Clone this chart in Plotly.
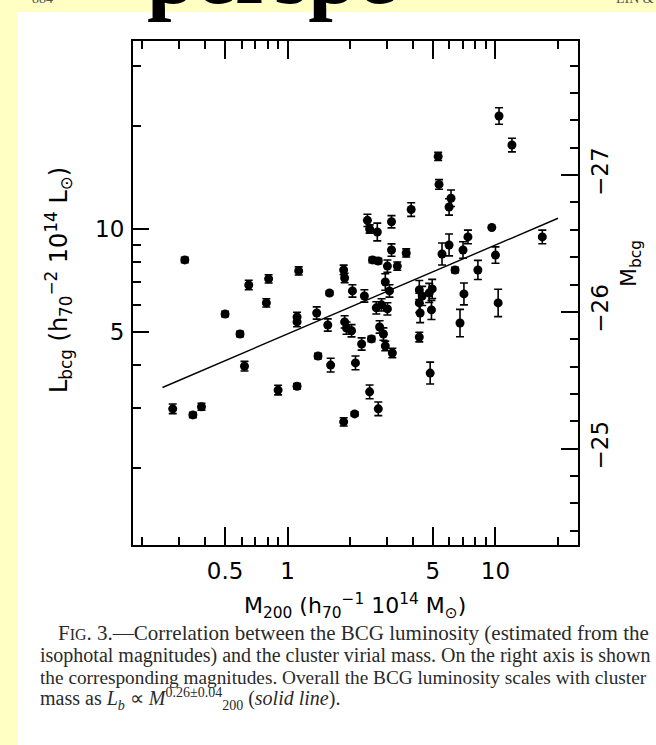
import numpy as np
import plotly.graph_objects as go

# ---------------- data ----------------
mass = [0.28, 0.35, 0.385, 0.32, 0.50, 0.59, 0.62, 0.65, 0.79, 0.81,
        0.90, 1.11, 1.13, 1.11, 1.11, 1.38, 1.40, 1.56, 1.59, 1.61,
        1.86, 1.88, 1.88, 1.92, 2.03, 2.05, 2.12, 2.27, 2.34, 2.48,
        2.73, 1.86, 2.10, 2.42, 2.48, 2.70, 3.16, 3.16, 2.56, 2.73,
        3.02, 2.95, 3.09, 2.67, 2.83, 3.02, 2.77, 2.89, 2.53, 2.95,
        3.19, 3.37, 3.72, 3.93, 4.30, 4.44, 4.34, 4.80, 4.96, 4.92,
        4.30, 4.85, 5.30, 5.35, 6.11, 5.98, 5.53, 5.98, 6.39, 6.98,
        7.37, 7.05, 6.75, 8.23, 9.60, 10.0, 10.3, 10.4, 12.0, 16.8,
        4.30]
lum = [2.98, 2.86, 3.02, 8.12, 5.64, 4.93, 3.97, 6.86, 6.08, 7.15,
       3.38, 3.47, 7.54, 5.53, 5.35, 5.68, 4.25, 5.24, 6.50, 4.00,
       7.59, 7.19, 5.35, 5.13, 5.04, 6.59, 4.06, 4.61, 6.37, 3.34,
       2.98, 2.73, 2.88, 10.6, 10.0, 9.80, 10.5, 8.68, 8.12, 8.06,
       7.79, 7.00, 6.59, 5.88, 6.00, 5.84, 5.17, 4.93, 4.77, 4.55,
       4.34, 7.79, 8.51, 11.4, 6.63, 6.37, 5.68, 6.50, 6.68, 5.80,
       4.83, 3.79, 16.3, 13.5, 12.3, 11.6, 8.45, 8.98, 7.59, 8.68,
       9.48, 6.46, 5.31, 7.59, 10.1, 8.39, 6.08, 21.4, 17.6, 9.48,
       6.08]
# error in magnitudes (half-length of the bars)
mag_err = [0.035, 0.02, 0.025, 0.02, 0.02, 0.02, 0.035, 0.035, 0.03, 0.03,
           0.035, 0.02, 0.03, 0.035, 0.035, 0.045, 0.02, 0.045, 0.015, 0.05,
           0.035, 0.035, 0.045, 0.045, 0.045, 0.045, 0.05, 0.045, 0.045, 0.05,
           0.05, 0.03, 0.015, 0.045, 0.03, 0.065, 0.045, 0.045, 0.02, 0.02,
           0.045, 0.06, 0.045, 0.045, 0.045, 0.045, 0.045, 0.045, 0.02, 0.035,
           0.035, 0.03, 0.03, 0.05, 0.07, 0.07, 0.07, 0.07, 0.07, 0.07,
           0.035, 0.08, 0.03, 0.035, 0.06, 0.06, 0.08, 0.08, 0.02, 0.06,
           0.05, 0.08, 0.10, 0.07, 0.0, 0.06, 0.10, 0.06, 0.05, 0.05,
           0.07]
fit_mass = [0.25, 20.0]
fit_lum = [3.44, 10.75]

x_ticks = [0.5, 1, 5, 10]
x_tick_labels = ["0.5", "1", "5", "10"]
x_minor = [0.2, 0.3, 0.4, 0.6, 0.7, 0.8, 0.9, 2, 3, 4, 6, 7, 8, 9, 20]
y_ticks = [5, 10]
y_tick_labels = ["5", "10"]
y_minor = [2, 3, 4, 6, 7, 8, 9, 20, 30]
mag_ticks = [-25, -26, -27]
mag_tick_labels = ["\u221225", "\u221226", "\u221227"]

caption = [
    "F<span style='font-size:16px'>IG</span>. 3.\u2014Correlation between the BCG luminosity (estimated from the",
    "isophotal magnitudes) and the cluster virial mass. On the right axis is shown",
    "the corresponding magnitudes. Overall the BCG luminosity scales with cluster",
    "mass as <i>L<sub>b</sub></i> \u221d <i>M</i><sup>0.26\u00b10.04</sup><sub>200</sub> (<i>solid line</i>).",
]

# ---------------- layout geometry ----------------
W, H = 656, 745
L_, R_, T_, B_ = 133, 578, 41, 545


def px(xp):
    return (xp - L_) / (R_ - L_)


def py(yp):
    return (B_ - yp) / (B_ - T_)


lum_a = np.array(lum)
err_a = np.array(mag_err)
err_plus = lum_a * (10 ** (0.4 * err_a) - 1)
err_minus = lum_a * (1 - 10 ** (-0.4 * err_a))

fig = go.Figure()
fig.add_trace(go.Scatter(
    x=mass, y=lum, mode="markers",
    marker=dict(symbol="circle", size=9, color="black"),
    error_y=dict(type="data", array=err_plus, arrayminus=err_minus,
                 color="black", thickness=1.6, width=4, visible=True),
    showlegend=False, hoverinfo="skip"))
fig.add_trace(go.Scatter(
    x=fit_mass, y=fit_lum, mode="lines",
    line=dict(color="black", width=1.4), showlegend=False, hoverinfo="skip"))
# invisible trace to activate the magnitude axis
fig.add_trace(go.Scatter(
    x=[1, 1], y=[-25, -27], yaxis="y2", mode="markers",
    marker=dict(opacity=0), showlegend=False, hoverinfo="skip"))

tickfont = dict(family="DejaVu Sans, sans-serif", size=23, color="black")

fig.update_layout(
    width=W, height=H,
    margin=dict(l=L_, r=W - R_, t=T_, b=H - B_, pad=0),
    paper_bgcolor="#FFFFC4",
    plot_bgcolor="white",
    showlegend=False,
    xaxis=dict(
        type="log", range=[-0.744, 1.397],
        tickvals=x_ticks, ticktext=x_tick_labels,
        ticks="inside", ticklen=18, tickwidth=1.5, tickcolor="black",
        minor=dict(tickvals=x_minor, ticks="inside", ticklen=8,
                   tickwidth=1.5, tickcolor="black", showgrid=False),
        showline=True, linewidth=2, linecolor="black", mirror="ticks",
        showgrid=False, zeroline=False, tickfont=tickfont,
        ticklabelstandoff=4,
    ),
    yaxis=dict(
        type="log", range=[0.076, 1.5497],
        tickvals=y_ticks, ticktext=y_tick_labels,
        ticks="inside", ticklen=16, tickwidth=1.5, tickcolor="black",
        minor=dict(tickvals=y_minor, ticks="inside", ticklen=8,
                   tickwidth=1.5, tickcolor="black", showgrid=False),
        showline=True, linewidth=2, linecolor="black", mirror=True,
        showgrid=False, zeroline=False, tickfont=tickfont,
        ticklabelstandoff=2,
    ),
    yaxis2=dict(
        overlaying="y", side="right", range=[-24.296, -27.98],
        tickvals=mag_ticks, ticktext=mag_tick_labels, tickangle=-90,
        ticks="inside", ticklen=17, tickwidth=1.5, tickcolor="black",
        minor=dict(tick0=-25, dtick=0.2, ticks="inside", ticklen=8,
                   tickwidth=1.5, tickcolor="black", showgrid=False),
        showline=True, linewidth=2, linecolor="black",
        showgrid=False, zeroline=False, tickfont=tickfont,
        ticklabelstandoff=0,
    ),
)

# white page area
fig.add_shape(type="rect", xref="paper", yref="paper",
              x0=px(18), x1=px(700), y0=py(800), y1=py(12),
              fillcolor="white", line=dict(width=0), layer="below")

title_font = dict(family="DejaVu Sans, sans-serif", size=22, color="black")
fig.add_annotation(xref="paper", yref="paper", x=px(355), y=py(606),
                   text="M<sub>200</sub> (h<sub>70</sub><sup>\u22121</sup> 10<sup>14</sup> M<sub>\u2299</sub>)",
                   showarrow=False, font=title_font, xanchor="center", yanchor="middle")
fig.add_annotation(xref="paper", yref="paper", x=px(58), y=py(280),
                   text="L<sub>bcg</sub> (h<sub>70</sub><sup>\u22122</sup> 10<sup>14</sup> L<sub>\u2299</sub>)",
                   textangle=-90, showarrow=False,
                   font=dict(family="DejaVu Sans, sans-serif", size=24, color="black"),
                   xanchor="center", yanchor="middle")
fig.add_annotation(xref="paper", yref="paper", x=px(630), y=py(264),
                   text="M<sub>bcg</sub>", textangle=-90, showarrow=False,
                   font=title_font, xanchor="center", yanchor="middle")

cap_sizes = [21, 20, 19.3, 20]
cap_y = [633, 655, 677, 699]
cap_x = [56, 38, 38, 38]
for t, yy, xx, fs in zip(caption, cap_y, cap_x, cap_sizes):
    fig.add_annotation(xref="paper", yref="paper", x=px(xx), y=py(yy),
                       text=t, showarrow=False,
                       font=dict(family="Liberation Serif, Times New Roman, serif",
                                 size=fs, color="#2a2a2a"),
                       xanchor="left", yanchor="middle", align="left")

# cut-off page header
fig.add_annotation(xref="paper", yref="paper", x=px(30), y=py(8),
                   text="884", showarrow=False,
                   font=dict(family="Liberation Serif, serif", size=14, color="#555"),
                   xanchor="left", yanchor="bottom")
fig.add_annotation(xref="paper", yref="paper", x=px(656), y=py(8),
                   text="LIN &", showarrow=False,
                   font=dict(family="Liberation Serif, serif", size=14, color="#555"),
                   xanchor="right", yanchor="bottom")
fig.add_annotation(xref="paper", yref="paper", x=px(271), y=py(24),
                   text="<b>perspe</b>", showarrow=False,
                   font=dict(family="Liberation Serif, serif", size=88, color="black"),
                   xanchor="center", yanchor="bottom")

fig.write_html(
    "out.html",
    config={"displayModeBar": False},
    post_script="document.body.style.margin='0';document.body.style.background='#FFFFC4';",
)
